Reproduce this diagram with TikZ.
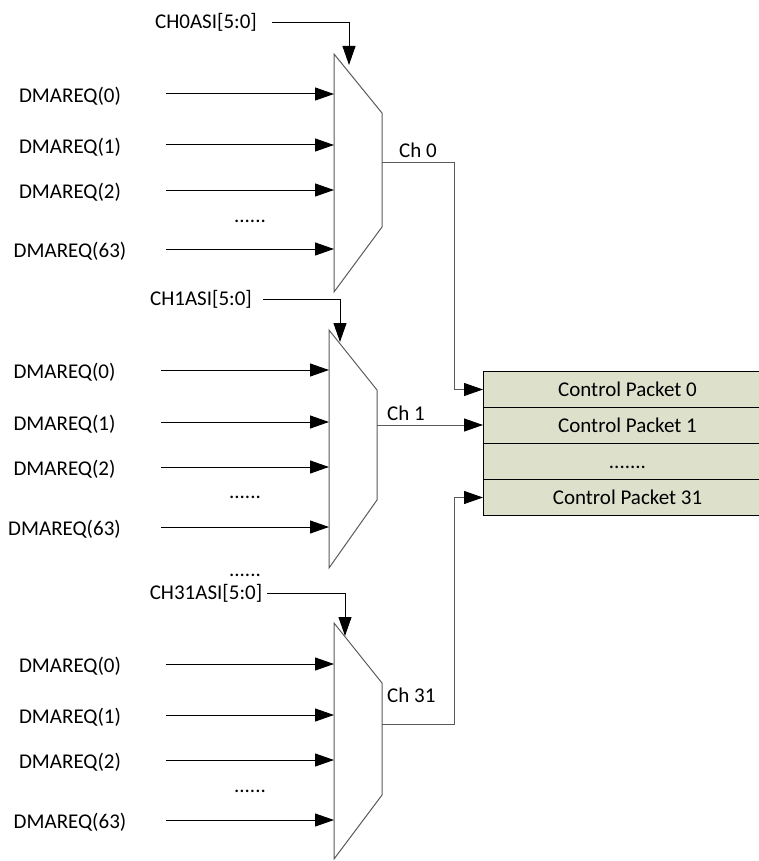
\documentclass[tikz,border=0pt]{standalone}
\usepackage{fontspec}
\setmainfont{Carlito}
\usetikzlibrary{arrows.meta}
\definecolor{pkt}{RGB}{221,225,204}
\definecolor{muxc}{RGB}{90,90,90}
\begin{document}
\begin{tikzpicture}[x=1pt,y=-1pt,
  lbl/.style={inner sep=0pt, font=\fontsize{21}{25}\selectfont},
  sig/.style={line width=1pt, -{Triangle[length=19pt,width=13pt]}},
  outsig/.style={line width=1pt, draw=muxc, -{Triangle[length=19pt,width=13pt,color=black]}},
  muxshape/.style={draw=muxc, line width=1pt, fill=white},
  cell/.style={draw=black, line width=1pt, fill=pkt, minimum width=340pt, minimum height=36pt,
    inner sep=0pt, text height=13.5pt, text depth=0pt, anchor=north west, font=\fontsize{21}{25}\selectfont}
]
\useasboundingbox (0,0) rectangle (759,861);

% ---------- Control packet table ----------
\node[cell] (p0) at (483,371) {Control Packet 0\hspace*{52pt}};
\node[cell] (p1) at (483,407) {Control Packet 1\hspace*{52pt}};
\node[cell] (pd) at (483,443) {.......\hspace*{52pt}};
\node[cell] (p31) at (483,479) {Control Packet 31\hspace*{52pt}};

% ---------- Mux 0 ----------
\draw[muxshape] (334,54) -- (382,113) -- (382,227) -- (334,292) -- cycle;
\coordinate (m0out) at (382,163);
\foreach \y/\t [count=\i] in {94/0,145/1,190/2,249/63}{
  \node[lbl] (m0l\i) at (70,{\y+2}) {DMAREQ(\t)};
  \coordinate (m0s\i) at (166,\y);
  \coordinate (m0e\i) at (334,\y);
  \draw[sig] (m0s\i) -- (m0e\i);
}
\node[lbl] (m0dots) at (250,221) {......};
\node[lbl] (m0sel) at (206,22) {CH0ASI[5:0]};
\coordinate (m0a) at (272,23);
\coordinate (m0b) at (349,65);
\draw[sig] (m0a) -| (m0b);
\node[lbl, anchor=west] (ch0) at (399,150) {Ch 0};
\draw[outsig] (m0out) -- (454,163) |- (p0.west);

% ---------- Mux 1 ----------
\draw[muxshape] (329,330) -- (377,390) -- (377,500) -- (329,568) -- cycle;
\coordinate (m1out) at (377,425);
\foreach \y/\t [count=\i] in {370/0,422/1,467/2,527/63}{
  \node[lbl] (m1l\i) at (64.5,{\y+2}) {DMAREQ(\t)};
  \coordinate (m1s\i) at (161,\y);
  \coordinate (m1e\i) at (329,\y);
  \draw[sig] (m1s\i) -- (m1e\i);
}
\node[lbl] (m1dots) at (245,497) {......};
\node[lbl] (middots) at (245,575) {......};
\node[lbl] (m1sel) at (201,299) {CH1ASI[5:0]};
\coordinate (m1a) at (263,299);
\coordinate (m1b) at (340,342);
\draw[sig] (m1a) -| (m1b);
\node[lbl, anchor=west] (ch1) at (387,413) {Ch 1};
\draw[outsig] (m1out) -- (m1out -| p1.west);

% ---------- Mux 31 ----------
\draw[muxshape] (334,623) -- (382,683) -- (382,795) -- (334,859) -- cycle;
\coordinate (m2out) at (382,724);
\foreach \y/\t [count=\i] in {664/0,715/1,760/2,820/63}{
  \node[lbl] (m2l\i) at (70,{\y+2}) {DMAREQ(\t)};
  \coordinate (m2s\i) at (166,\y);
  \coordinate (m2e\i) at (334,\y);
  \draw[sig] (m2s\i) -- (m2e\i);
}
\node[lbl] (m2dots) at (250,791) {......};
\node[lbl] (m2sel) at (206,593) {CH31ASI[5:0]};
\coordinate (m2a) at (267,593);
\coordinate (m2b) at (345,636);
\draw[sig] (m2a) -| (m2b);
\node[lbl, anchor=west] (ch31) at (387,695) {Ch 31};
\draw[outsig] (m2out) -- (454,724) |- (p31.west);
\end{tikzpicture}
\end{document}
